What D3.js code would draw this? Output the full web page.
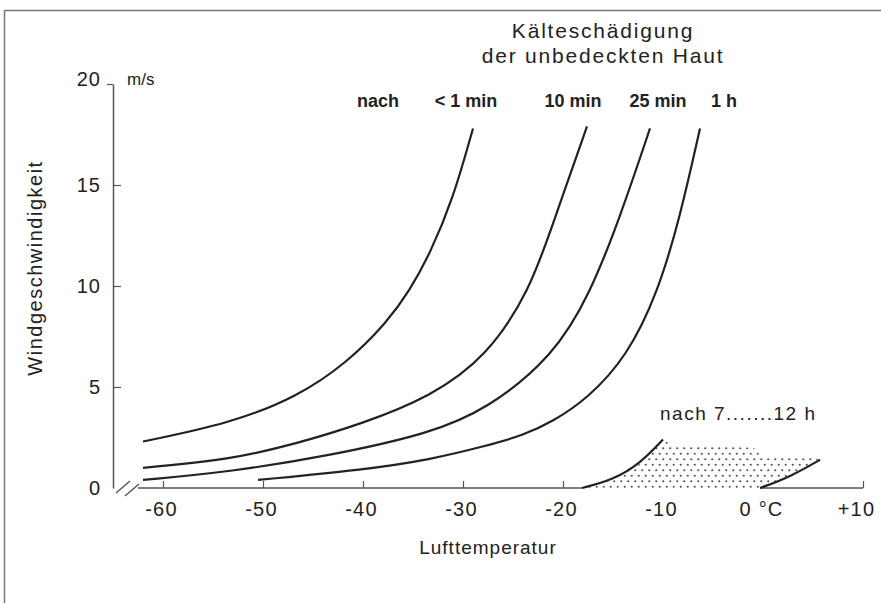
<!DOCTYPE html>
<html>
<head>
<meta charset="utf-8">
<script src="https://cdn.jsdelivr.net/npm/d3@7"></script>
<style>
  body { margin: 0; background: #fff; }
  svg text { font-family: "Liberation Sans", Arial, sans-serif; fill: #222; }
</style>
</head>
<body>
<svg id="chart" width="881" height="603"></svg>
<script>
// wind speed (m/s) at which exposed skin freezes, per air temperature (°C)
const curveLabels = ["< 1 min", "10 min", "25 min", "1 h"];
const curve1min = [[-62, 2.3], [-53.3, 3.2], [-46.6, 4.5], [-41.6, 6.2], [-37.6, 8.2], [-35.3, 9.8], [-33.3, 11.6], [-31, 14.3], [-29, 17.8]];
const curve10min = [[-62, 1.0], [-53.3, 1.4], [-46.6, 2.2], [-40, 3.2], [-33.3, 4.5], [-27.6, 6.5], [-23.3, 9.8], [-21, 13.1], [-17.6, 17.9]];
const curve25min = [[-62, 0.4], [-53.3, 0.8], [-43.3, 1.6], [-33.3, 2.7], [-27.6, 3.9], [-21, 6.5], [-17.3, 9.6], [-14.3, 13.4], [-11.3, 17.8]];
const curve1h = [[-50.5, 0.4], [-40, 0.9], [-33.3, 1.4], [-27.6, 2.1], [-24, 2.6], [-21, 3.3], [-17.6, 4.4], [-13.6, 6.5], [-10.5, 9.7], [-8.3, 13.4], [-6.3, 17.8]];
const curves = [curve1min, curve10min, curve25min, curve1h];

// stippled zone "nach 7......12 h"
const zoneLeft = [[-18.1, 0], [-15, 0.4], [-12.3, 1.2], [-10, 2.4]];
const zoneTop = [[-10, 2.4], [-9, 2.1], [-1, 2.0], [0.3, 1.5], [4.7, 1.5], [5.7, 1.4]];
const zoneRight = [[-0.3, 0], [2.7, 0.55], [5.7, 1.4]];

const xTicks = [-60, -50, -40, -30, -20, -10, 0, 10];
const xTickLabels = ["-60", "-50", "-40", "-30", "-20", "-10", "0 °C", "+10"];
const yTicks = [0, 5, 10, 15, 20];
const xStart = -62.5;

const svg = d3.select('#chart');

const x = d3.scaleLinear().domain([-60, 10]).range([163, 863]);
const y = d3.scaleLinear().domain([0, 20]).range([488, 84]);

// frame
svg.append('path')
  .attr('d', 'M4.5,603V10.5H881')
  .attr('fill', 'none')
  .attr('stroke', '#777')
  .attr('stroke-width', 1.5);

// stipple pattern
const defs = svg.append('defs');
const pat = defs.append('pattern')
  .attr('id', 'dots')
  .attr('patternUnits', 'userSpaceOnUse')
  .attr('width', 7).attr('height', 11);
pat.append('rect').attr('width', 7).attr('height', 11).attr('fill', '#fff');
pat.append('circle').attr('cx', 1.75).attr('cy', 2.75).attr('r', 1.1).attr('fill', '#555');
pat.append('circle').attr('cx', 5.25).attr('cy', 8.25).attr('r', 1.1).attr('fill', '#555');

// x axis
const xAxis = d3.axisBottom(x)
  .tickValues(xTicks)
  .tickSizeInner(-7)
  .tickSizeOuter(0)
  .tickPadding(14)
  .tickFormat((d, i) => xTickLabels[i]);

const xAxisG = svg.append('g')
  .attr('transform', `translate(0,${y(0)})`)
  .call(xAxis);
xAxisG.select('.domain').remove();
xAxisG.append('line')
  .attr('x1', x(xStart)).attr('x2', x(10))
  .attr('stroke', '#555').attr('stroke-width', 1.5);
xAxisG.selectAll('.tick line').attr('stroke', '#555').attr('stroke-width', 1.2);
xAxisG.selectAll('.tick text')
  .style('font-size', '20px')
  .style('letter-spacing', '1.2px')
  .attr('fill', '#222')
  .attr('dx', (d) => d === 10 ? -7 : -2);

// y axis
const yAxis = d3.axisLeft(y)
  .tickValues(yTicks)
  .tickSizeInner(-8)
  .tickSizeOuter(0)
  .tickPadding(12)
  .tickFormat(d3.format('d'));

const yAxisG = svg.append('g')
  .attr('transform', `translate(${x(xStart) - 25},0)`)
  .call(yAxis);
yAxisG.select('.domain').attr('stroke', '#555').attr('stroke-width', 1.5);
yAxisG.selectAll('.tick line')
  .attr('stroke', '#555').attr('stroke-width', 1.2)
  .attr('x2', (d) => d === 20 ? -6 : d === 0 ? 0 : 8);
yAxisG.selectAll('.tick text')
  .style('font-size', '20px')
  .style('letter-spacing', '1px')
  .attr('fill', '#222')
  .attr('dy', (d) => d === 20 ? '0.05em' : '0.32em');

yAxisG.append('text')
  .attr('x', 14).attr('y', y(20) + 1)
  .attr('text-anchor', 'start')
  .style('font-size', '17px')
  .text('m/s');

// axis break marks
const breakG = svg.append('g').attr('stroke', '#555').attr('stroke-width', 1.4);
breakG.append('line')
  .attr('x1', x(xStart) - 22).attr('y1', y(0) + 5)
  .attr('x2', x(xStart) - 8).attr('y2', y(0) - 7);
breakG.append('line')
  .attr('x1', x(xStart) - 13).attr('y1', y(0) + 8)
  .attr('x2', x(xStart) + 1).attr('y2', y(0) - 4);

// stippled zone
const zonePoly = zoneLeft.concat(zoneTop.slice(1), zoneRight.slice().reverse(), [[-0.3, -0.08], [-18.1, -0.08]]);
svg.append('path')
  .datum(zonePoly)
  .attr('d', d3.line().x(d => x(d[0])).y(d => y(d[1])).curve(d3.curveLinearClosed))
  .attr('fill', 'url(#dots)')
  .attr('stroke', 'none');

const line = d3.line()
  .x(d => x(d[0]))
  .y(d => y(d[1]))
  .curve(d3.curveBasis);

svg.append('path').datum(zoneLeft).attr('d', line)
  .attr('fill', 'none').attr('stroke', '#222').attr('stroke-width', 2.2);
svg.append('path').datum(zoneRight).attr('d', line)
  .attr('fill', 'none').attr('stroke', '#222').attr('stroke-width', 2.2);

// damage curves
svg.selectAll('.curve')
  .data(curves)
  .enter().append('path')
  .attr('class', 'curve')
  .attr('d', line)
  .attr('fill', 'none')
  .attr('stroke', '#222')
  .attr('stroke-width', 2.2);

// curve labels
const labelX = [466, 573, 658, 724];
svg.selectAll('.clabel')
  .data(curveLabels)
  .enter().append('text')
  .attr('class', 'clabel')
  .attr('x', (d, i) => labelX[i])
  .attr('y', 107)
  .attr('text-anchor', 'middle')
  .style('font-size', '18px')
  .style('font-weight', 'bold')
  .attr('fill', '#222')
  .text(d => d);

svg.append('text')
  .attr('x', 378).attr('y', 107)
  .attr('text-anchor', 'middle')
  .style('font-size', '18px')
  .style('font-weight', 'bold')
  .text('nach');

// title
svg.append('text')
  .attr('x', 603).attr('y', 38)
  .attr('text-anchor', 'middle')
  .style('font-size', '21px')
  .style('letter-spacing', '1.8px')
  .text('Kälteschädigung');
svg.append('text')
  .attr('x', 603).attr('y', 63)
  .attr('text-anchor', 'middle')
  .style('font-size', '21px')
  .style('letter-spacing', '1.8px')
  .text('der unbedeckten Haut');

svg.append('text')
  .attr('x', 660).attr('y', 420)
  .style('font-size', '19px')
  .style('letter-spacing', '1.5px')
  .text('nach 7.......12 h');

// axis titles
svg.append('text')
  .attr('x', 488).attr('y', 554)
  .attr('text-anchor', 'middle')
  .style('font-size', '19px')
  .style('letter-spacing', '1px')
  .text('Lufttemperatur');

svg.append('text')
  .attr('transform', 'translate(42,268) rotate(-90)')
  .attr('text-anchor', 'middle')
  .style('font-size', '20px')
  .style('letter-spacing', '1.5px')
  .text('Windgeschwindigkeit');
</script>
</body>
</html>
